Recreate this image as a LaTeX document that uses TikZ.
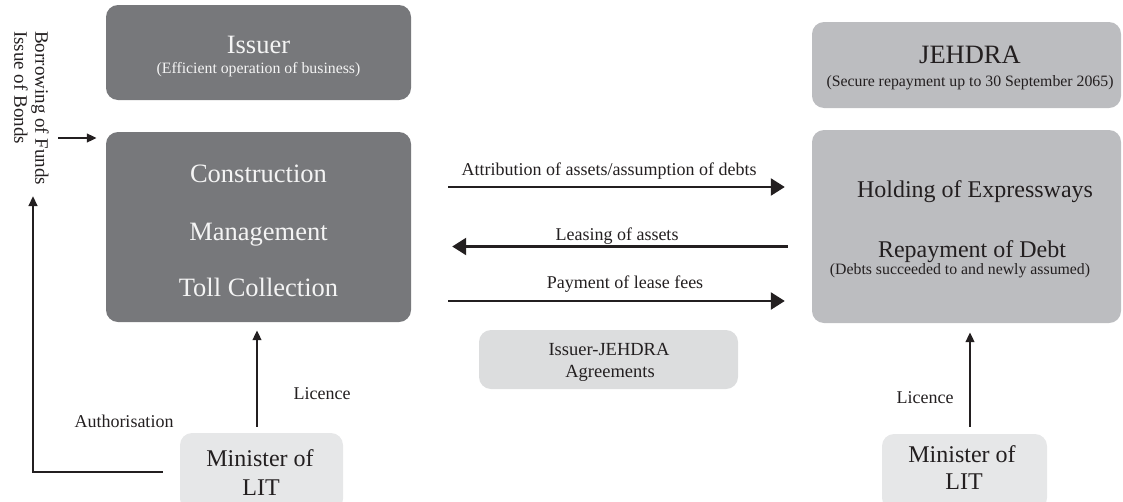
\documentclass[tikz,border=0pt]{standalone}
\usepackage{fontspec}
\setmainfont{Liberation Serif}
\usetikzlibrary{arrows.meta}
\definecolor{darkbox}{HTML}{77787B}
\definecolor{midbox}{HTML}{BCBDC0}
\definecolor{lightbox}{HTML}{E6E7E8}
\definecolor{agrbox}{HTML}{DCDDDE}
\definecolor{ink}{HTML}{231F20}
\definecolor{wink}{HTML}{F4F4F4}
\begin{document}
\begin{tikzpicture}[x=1pt,y=-1pt,
  box/.style={rectangle,rounded corners=12pt,inner sep=0pt,draw=none},
  txt/.style={anchor=base,inner sep=0pt,text=ink},
  wtxt/.style={anchor=base,inner sep=0pt,text=wink},
  fbig/.style={font=\fontsize{26.5}{30}\selectfont},
  fmid/.style={font=\fontsize{24}{28}\selectfont},
  flab/.style={font=\fontsize{18}{21}\selectfont},
  fsub/.style={font=\fontsize{15.8}{18}\selectfont},
  bigarr/.style={draw=ink,line width=2.5pt,-{Triangle[length=14pt,width=17pt]}},
  smarr/.style={draw=ink,line width=2.5pt,-{Triangle[length=10pt,width=8.5pt]}}]
\useasboundingbox (0,0) rectangle (1123,501);
\clip (0,0) rectangle (1123,501);
% boxes
\node[box,fill=darkbox,minimum width=305pt,minimum height=95pt] (issuer) at (258.5,52.5) {};
\node[box,fill=darkbox,minimum width=305pt,minimum height=190pt] (cons) at (258.5,227) {};
\node[box,fill=midbox,minimum width=309pt,minimum height=86pt] (jehdra) at (966.5,65) {};
\node[box,fill=midbox,minimum width=309pt,minimum height=193pt] (hold) at (966.5,226.5) {};
\node[box,fill=agrbox,minimum width=259pt,minimum height=59pt] (agr) at (608.5,359.5) {};
\node[box,fill=lightbox,minimum width=163pt,minimum height=78pt] (minL) at (261.5,472) {};
\node[box,fill=lightbox,minimum width=165pt,minimum height=76pt] (minR) at (964.5,472) {};
% box texts
\node[wtxt,fbig] (issuerT) at (258.5,53) {Issuer};
\node[wtxt,fsub] (issuerS) at (258.5,73) {(Efficient operation of business)};
\node[wtxt,fbig] (consA) at (258.5,182) {Construction};
\node[wtxt,fbig] (consB) at (258.5,240) {Management};
\node[wtxt,fbig] (consC) at (258.5,296) {Toll Collection};
\node[txt,fbig] (jehdraT) at (970,63) {JEHDRA};
\node[txt,fsub] (jehdraS) at (970,86) {(Secure repayment up to 30 September 2065)};
\node[txt,fmid] (holdA) at (975,197) {Holding of Expressways};
\node[txt,fmid] (holdB) at (972,257) {Repayment of Debt};
\node[txt,fsub] (holdC) at (960,274) {(Debts succeeded to and newly assumed)};
\node[txt,font=\fontsize{18.5}{21}\selectfont] (agrA) at (609,355) {Issuer-JEHDRA};
\node[txt,font=\fontsize{18.5}{21}\selectfont] (agrB) at (610,377) {Agreements};
\node[txt,fmid] (minLA) at (260,466) {Minister of};
\node[txt,fmid] (minLB) at (261,495) {LIT};
\node[txt,fmid] (minRA) at (962,462) {Minister of};
\node[txt,fmid] (minRB) at (964,489) {LIT};
% labels
\node[txt,flab] (l1) at (609,175) {Attribution of assets/assumption of debts};
\node[txt,flab] (l2) at (617,240) {Leasing of assets};
\node[txt,flab] (l3) at (625,288) {Payment of lease fees};
\node[txt,flab] (licL) at (322,399) {Licence};
\node[txt,flab] (auth) at (124,427) {Authorisation};
\node[txt,flab] (licR) at (925,403) {Licence};
\node[anchor=north west,inner sep=0pt,rotate=-90,align=left,text=ink,
      font=\fontsize{19}{21}\selectfont] (borrowT) at (49,31)
      {Borrowing of Funds\\Issue of Bonds};
% connectors
\coordinate (authTop) at (33,196);
\coordinate (borrowS) at (58,138);
\draw[bigarr,shorten <=37pt,shorten >=27pt] ([yshift=40pt]cons.east) -- ([yshift=40pt]cons.east -| hold.west);
\draw[bigarr,shorten <=24pt,shorten >=41pt] ([yshift=-20pt]hold.west) -- ([yshift=-20pt]hold.west -| cons.east);
\draw[bigarr,shorten <=37pt,shorten >=27pt] ([yshift=-74pt]cons.east) -- ([yshift=-74pt]cons.east -| hold.west);
\draw[smarr,shorten <=6pt,shorten >=8pt] ([xshift=-4.5pt]minL.north) -- ([xshift=-4.5pt]minL.north |- cons.south);
\draw[smarr,shorten <=7pt,shorten >=9pt] ([xshift=5.5pt]minR.north) -- ([xshift=5.5pt]minR.north |- hold.south);
\draw[smarr] ([xshift=-17pt]minL.west) -| (authTop);
\draw[smarr] (borrowS) -- ([xshift=-9pt]cons.west |- borrowS);
\end{tikzpicture}
\end{document}
